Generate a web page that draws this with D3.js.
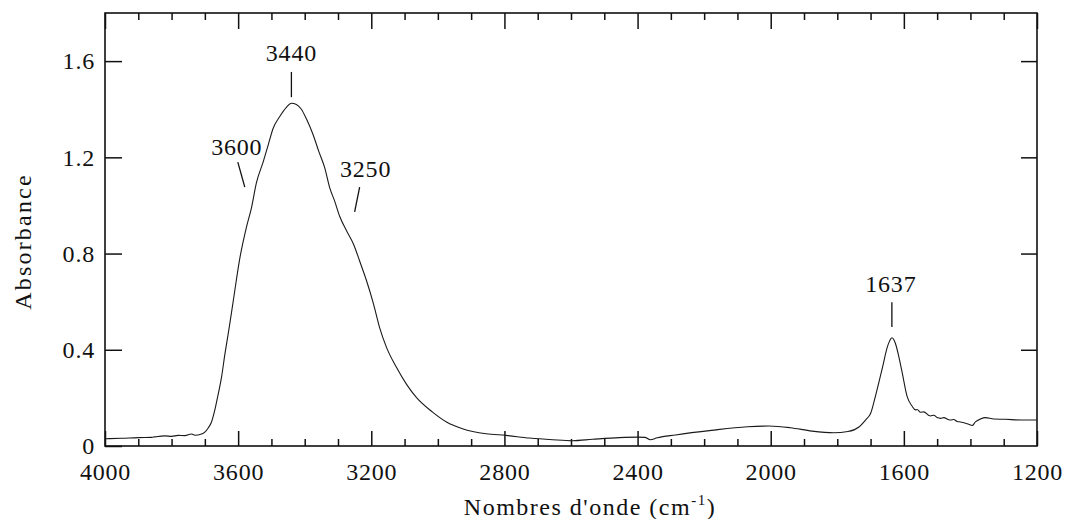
<!DOCTYPE html>
<html><head><meta charset="utf-8">
<script src="https://cdn.jsdelivr.net/npm/d3@7"></script>
<style>
html,body{margin:0;padding:0;background:#fff;}
svg{display:block;}
text{font-family:"Liberation Serif","Times New Roman",serif;fill:#111;}
</style></head><body>
<svg id="chart" width="1066" height="519"></svg>
<script>
// ---- data ----
const wavenumbers = [4000,3950,3900,3860,3850,3820,3800,3780,3760,3740,3730,3710,3700,3690,3680,3670,3660,3650,3640,3630,3615,3595,3575,3560,3545,3525,3510,3495,3475,3455,3440,3425,3410,3395,3375,3358,3340,3325,3310,3295,3274,3253,3235,3214,3193,3175,3154,3124,3094,3064,3016,2974,2926,2855,2795,2725,2655,2595,2535,2455,2400,2378,2362,2341,2286,2178,2070,2005,1941,1876,1811,1768,1735,1714,1700,1684,1664,1650,1643,1636,1625,1615,1605,1590,1575,1565,1560,1550,1540,1525,1520,1510,1500,1490,1480,1465,1460,1450,1440,1430,1405,1395,1385,1370,1355,1330,1295,1250,1205,1200];
const absorbance  = [0.030,0.032,0.035,0.036,0.038,0.042,0.040,0.044,0.043,0.050,0.045,0.050,0.058,0.075,0.100,0.150,0.215,0.285,0.380,0.465,0.600,0.780,0.910,0.990,1.095,1.180,1.250,1.320,1.370,1.408,1.425,1.420,1.400,1.360,1.295,1.226,1.157,1.074,1.018,0.955,0.894,0.838,0.769,0.686,0.589,0.492,0.409,0.326,0.256,0.201,0.141,0.100,0.072,0.051,0.044,0.033,0.026,0.022,0.028,0.035,0.037,0.036,0.026,0.034,0.046,0.065,0.080,0.083,0.076,0.062,0.055,0.060,0.079,0.110,0.135,0.215,0.328,0.410,0.436,0.450,0.425,0.370,0.305,0.205,0.165,0.150,0.152,0.140,0.142,0.127,0.125,0.128,0.118,0.115,0.118,0.109,0.108,0.110,0.102,0.100,0.090,0.085,0.100,0.112,0.118,0.112,0.111,0.108,0.108,0.108];

const xMajorTicks = [4000,3600,3200,2800,2400,2000,1600,1200];
const xMinorTicks = [3900,3800,3700,3500,3400,3300,3100,3000,2900,2700,2600,2500,2300,2200,2100,1900,1800,1700,1500,1400,1300];
const yTicks = [0,0.4,0.8,1.2,1.6];
const yTickLabels = ["0","0.4","0.8","1.2","1.6"];

// peak labels: text anchor (w, A) and pointer segment (w1,A1)-(w2,A2)
const peakLabels = ["3440","3600","3250","1637"];
const peakTextW  = [3440,3604,3217,1639];
const peakTextA  = [1.60,1.21,1.118,0.64];
const peakLineW1 = [3440,3601,3235,1636];
const peakLineA1 = [1.555,1.18,1.076,0.598];
const peakLineW2 = [3440,3580,3250,1636];
const peakLineA2 = [1.45,1.076,0.973,0.495];

// ---- drawing ----
const svg = d3.select("#chart");
const x = d3.scaleLinear().domain([4000,1200]).range([105,1037]);
const y = d3.scaleLinear().domain([0,1.8]).range([446,13]);

const FS = 24;
function styleAxis(g){
  g.select(".domain").remove();
  g.selectAll(".tick line").attr("stroke","#111").attr("stroke-width",1.5);
  g.selectAll(".tick text").attr("font-size",FS).attr("fill","#111")
    .style("font-family",'"Liberation Serif","Times New Roman",serif')
    .style("letter-spacing","0.8px");
}

// bottom
svg.append("g").attr("transform",`translate(0,${y(0)})`)
  .call(d3.axisBottom(x).tickValues(xMinorTicks).tickSize(-7).tickFormat(""))
  .call(styleAxis);
svg.append("g").attr("transform",`translate(0,${y(0)})`)
  .call(d3.axisBottom(x).tickValues(xMajorTicks).tickSize(-15).tickPadding(17).tickFormat(d3.format("d")))
  .call(styleAxis);
// top
svg.append("g").attr("transform",`translate(0,${y(1.8)})`)
  .call(d3.axisTop(x).tickValues(xMinorTicks).tickSize(-7).tickFormat(""))
  .call(styleAxis);
svg.append("g").attr("transform",`translate(0,${y(1.8)})`)
  .call(d3.axisTop(x).tickValues(xMajorTicks).tickSize(-16).tickFormat(""))
  .call(styleAxis);
// left
svg.append("g").attr("transform",`translate(${x(4000)},0)`)
  .call(d3.axisLeft(y).tickValues(yTicks).tickSize(-17).tickPadding(10).tickFormat((d,i)=>yTickLabels[i]))
  .call(styleAxis);
// right
svg.append("g").attr("transform",`translate(${x(1200)},0)`)
  .call(d3.axisRight(y).tickValues(yTicks.slice(1)).tickSize(-16).tickFormat(""))
  .call(styleAxis);

// frame
svg.append("rect")
  .attr("x",x(4000)).attr("y",y(1.8))
  .attr("width",x(1200)-x(4000)).attr("height",y(0)-y(1.8))
  .attr("fill","none").attr("stroke","#111").attr("stroke-width",1.6);

// spectrum
const pts = wavenumbers.map((w,i)=>({w, a:absorbance[i]}));
svg.append("path").datum(pts)
  .attr("fill","none").attr("stroke","#1a1a1a").attr("stroke-width",1.1)
  .attr("d", d3.line().x(d=>x(d.w)).y(d=>y(d.a)).curve(d3.curveMonotoneX));

// peak labels
peakLabels.forEach((lab,i)=>{
  svg.append("text").attr("x",x(peakTextW[i])).attr("y",y(peakTextA[i]))
    .attr("text-anchor","middle").attr("font-size",FS)
    .style("letter-spacing","0.8px").text(lab);
  svg.append("line")
    .attr("x1",x(peakLineW1[i])).attr("y1",y(peakLineA1[i]))
    .attr("x2",x(peakLineW2[i])).attr("y2",y(peakLineA2[i]))
    .attr("stroke","#111").attr("stroke-width",1.3);
});

// axis titles
svg.append("text")
  .attr("transform",`translate(31,${(y(0)+y(1.8))/2 + 12}) rotate(-90)`)
  .attr("text-anchor","middle").attr("font-size",FS)
  .style("letter-spacing","2.2px").text("Absorbance");

const xt = svg.append("text").attr("x",590).attr("y",515)
  .attr("text-anchor","middle").attr("font-size",FS).style("letter-spacing","1.5px");
xt.append("tspan").text("Nombres d'onde (cm");
xt.append("tspan").attr("font-size",15).attr("dy",-10).text("-1");
xt.append("tspan").attr("dy",10).text(")");
</script>
</body></html>
